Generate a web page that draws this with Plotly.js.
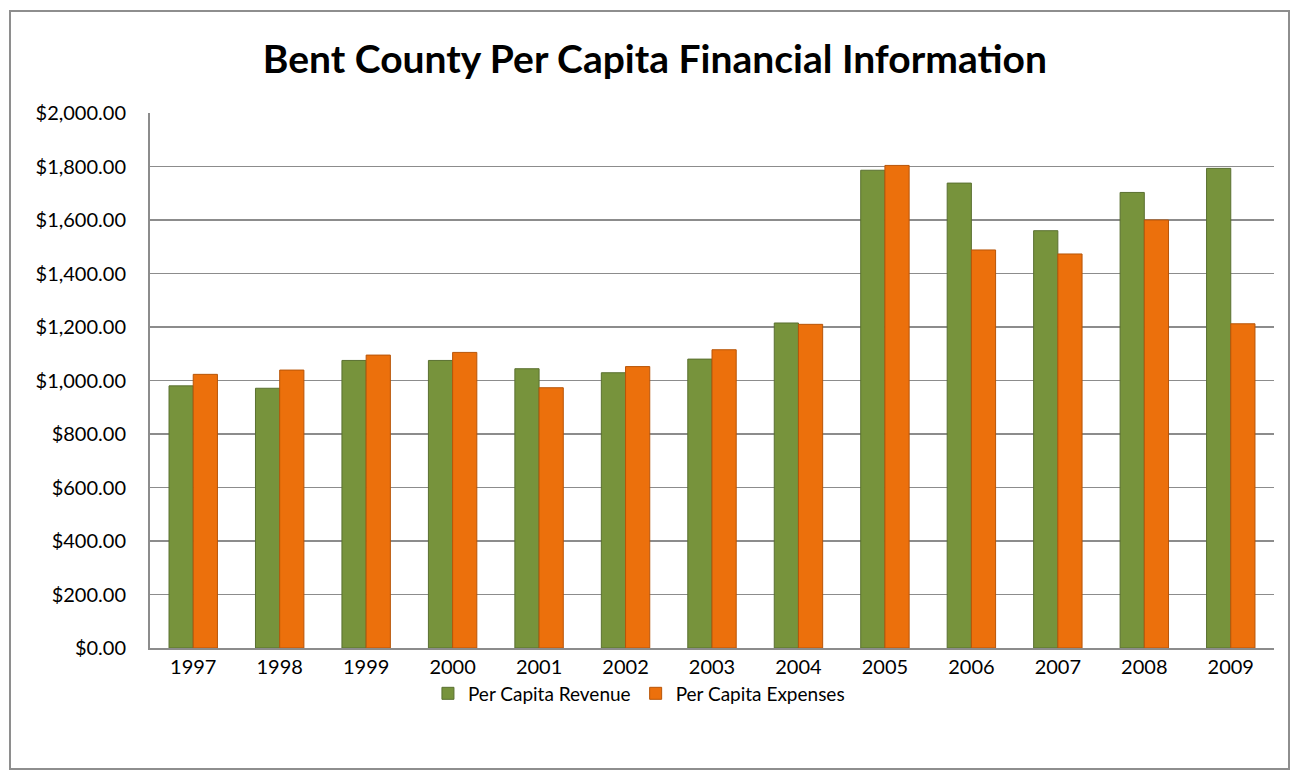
<!DOCTYPE html>
<html>
<head>
<meta charset="utf-8">
<script src="https://cdn.plot.ly/plotly-3.0.1.min.js"></script>
<style>
  body { margin: 0; background: #fff; }
  #wrap { position: relative; width: 1302px; height: 782px; }
  #frame { position: absolute; left: 9px; top: 10px; width: 1281px; height: 760px; border: 2px solid #8e8e8e; box-sizing: border-box; pointer-events: none; }
  #chart { width: 1302px; height: 782px; }
</style>
</head>
<body>
<div id="wrap">
  <div id="chart"></div>
  <div id="frame"></div>
</div>
<script>
  var years = ['1997', '1998', '1999', '2000', '2001', '2002', '2003', '2004', '2005', '2006', '2007', '2008', '2009'];
  var revenue = [980, 971, 1075, 1075, 1044, 1029, 1080, 1215, 1786, 1738, 1560, 1703, 1793];
  var expenses = [1023, 1039, 1095, 1105, 973, 1052, 1115, 1210, 1804, 1488, 1473, 1600, 1212];

  var trace1 = {
    x: years,
    y: revenue,
    name: 'Per Capita Revenue',
    type: 'bar',
    marker: {
      color: '#77933c',
      line: { color: '#5a7030', width: 1 }
    }
  };
  var trace2 = {
    x: years,
    y: expenses,
    name: 'Per Capita Expenses',
    type: 'bar',
    marker: {
      color: '#ec700c',
      line: { color: '#b85508', width: 1 }
    }
  };

  var data = [trace1, trace2];
  var layout = {
    width: 1302,
    height: 782,
    margin: { l: 150, r: 28, t: 113, b: 134 },
    paper_bgcolor: '#ffffff',
    plot_bgcolor: '#ffffff',
    font: { family: 'Lato, "Open Sans", sans-serif', size: 20, color: '#000' },
    title: {
      text: '<b>Bent County Per Capita Financial Information</b>',
      font: { family: 'Lato, sans-serif', size: 39, color: '#000' },
      x: 0.503, xanchor: 'center',
      y: 0.924, yanchor: 'middle'
    },
    barmode: 'group',
    bargap: 0.44,
    bargroupgap: 0,
    showlegend: true,
    legend: {
      orientation: 'h',
      x: 0.435, xanchor: 'center',
      y: -0.085, yanchor: 'middle',
      font: { size: 19 },
      itemwidth: 30
    },
    xaxis: {
      type: 'category',
      showline: true,
      linecolor: '#8c8c8c',
      linewidth: 2,
      ticks: '',
      ticklabelstandoff: 0,
      fixedrange: true
    },
    yaxis: {
      range: [0, 2000],
      dtick: 200,
      tickformat: '$,.2f',
      showline: true,
      linecolor: '#8c8c8c',
      linewidth: 2,
      showgrid: true,
      gridcolor: '#8c8c8c',
      gridwidth: 1.5,
      zeroline: false,
      ticks: '',
      ticklabelstandoff: 18,
      fixedrange: true
    }
  };
  Plotly.newPlot('chart', data, layout, { displayModeBar: false, staticPlot: true });
</script>
</body>
</html>
